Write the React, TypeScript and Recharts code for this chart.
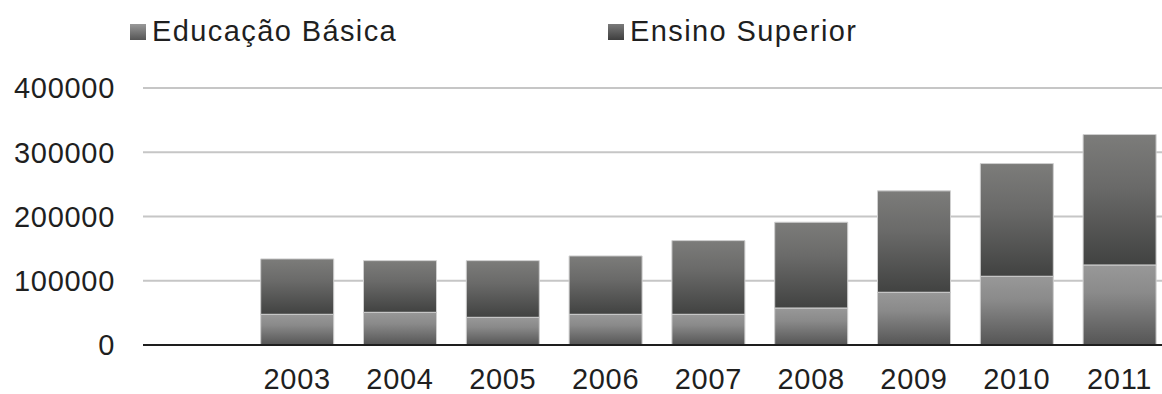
import React from 'react';
import { BarChart, Bar, XAxis, YAxis, CartesianGrid } from 'recharts';

// Categorias (primeira vazia, como no gráfico original) e valores.
const years = ['', '2003', '2004', '2005', '2006', '2007', '2008', '2009', '2010', '2011'];
const basica = [null, 47800, 50900, 43100, 47800, 47800, 57600, 82100, 107000, 124600];
const superior = [null, 86200, 80400, 88200, 90800, 114700, 133500, 157800, 175400, 203000];
const yTicks = [0, 100000, 200000, 300000, 400000];

const data = years.map((year, i) => ({ year, basica: basica[i], superior: superior[i] }));

const FONT = '"Liberation Sans", Arial, sans-serif';
const INK = '#1f1f1f';
const tickStyle = { fontSize: 29, fill: INK, fontFamily: FONT, letterSpacing: 0.7 } as const;

const LegendItem: React.FC<{ left: number; label: string; grad: string }> = ({ left, label, grad }) => (
  <div style={{ position: 'absolute', left, top: 14, display: 'flex', alignItems: 'center' }}>
    <span style={{ width: 16, height: 16, background: grad, marginRight: 6, marginTop: 2 }} />
    <span style={{ fontSize: 29, color: INK, fontFamily: FONT, letterSpacing: 1.4, lineHeight: '34px' }}>{label}</span>
  </div>
);

export default function App() {
  return (
    <div style={{ position: 'relative', width: 1162, height: 394, overflow: 'hidden', background: '#fff' }}>
      <style>{'body{margin:0}'}</style>
      <LegendItem left={130} label="Educação Básica" grad="linear-gradient(#999, #555)" />
      <LegendItem left={608} label="Ensino Superior" grad="linear-gradient(#7a7a7a, #3e3e3e)" />
      <BarChart
        width={1175}
        height={394}
        data={data}
        margin={{ top: 88, right: 4, bottom: 0, left: 0 }}
        barCategoryGap="14.5%"
      >
        <defs>
          <linearGradient id="g-basica" x1="0" y1="0" x2="0" y2="1">
            <stop offset="0%" stopColor="#989898" />
            <stop offset="35%" stopColor="#8a8a8a" />
            <stop offset="100%" stopColor="#555555" />
          </linearGradient>
          <linearGradient id="g-superior" x1="0" y1="0" x2="0" y2="1">
            <stop offset="0%" stopColor="#7c7c7a" />
            <stop offset="40%" stopColor="#6a6a69" />
            <stop offset="100%" stopColor="#414241" />
          </linearGradient>
        </defs>
        <CartesianGrid vertical={false} stroke="#c6c6c6" strokeWidth={2} />
        <XAxis
          dataKey="year"
          height={49}
          axisLine={{ stroke: '#1e1e1e', strokeWidth: 2 }}
          tickLine={false}
          tickMargin={17}
          tick={tickStyle}
          interval={0}
        />
        <YAxis
          width={143}
          domain={[0, 400000]}
          ticks={yTicks}
          axisLine={false}
          tickLine={false}
          tickMargin={22}
          tick={tickStyle}
        />
        <Bar dataKey="basica" stackId="a" fill="url(#g-basica)" stroke="#cfcfcf" strokeWidth={1} isAnimationActive={false} />
        <Bar dataKey="superior" stackId="a" fill="url(#g-superior)" stroke="#cfcfcf" strokeWidth={1} isAnimationActive={false} />
      </BarChart>
    </div>
  );
}
